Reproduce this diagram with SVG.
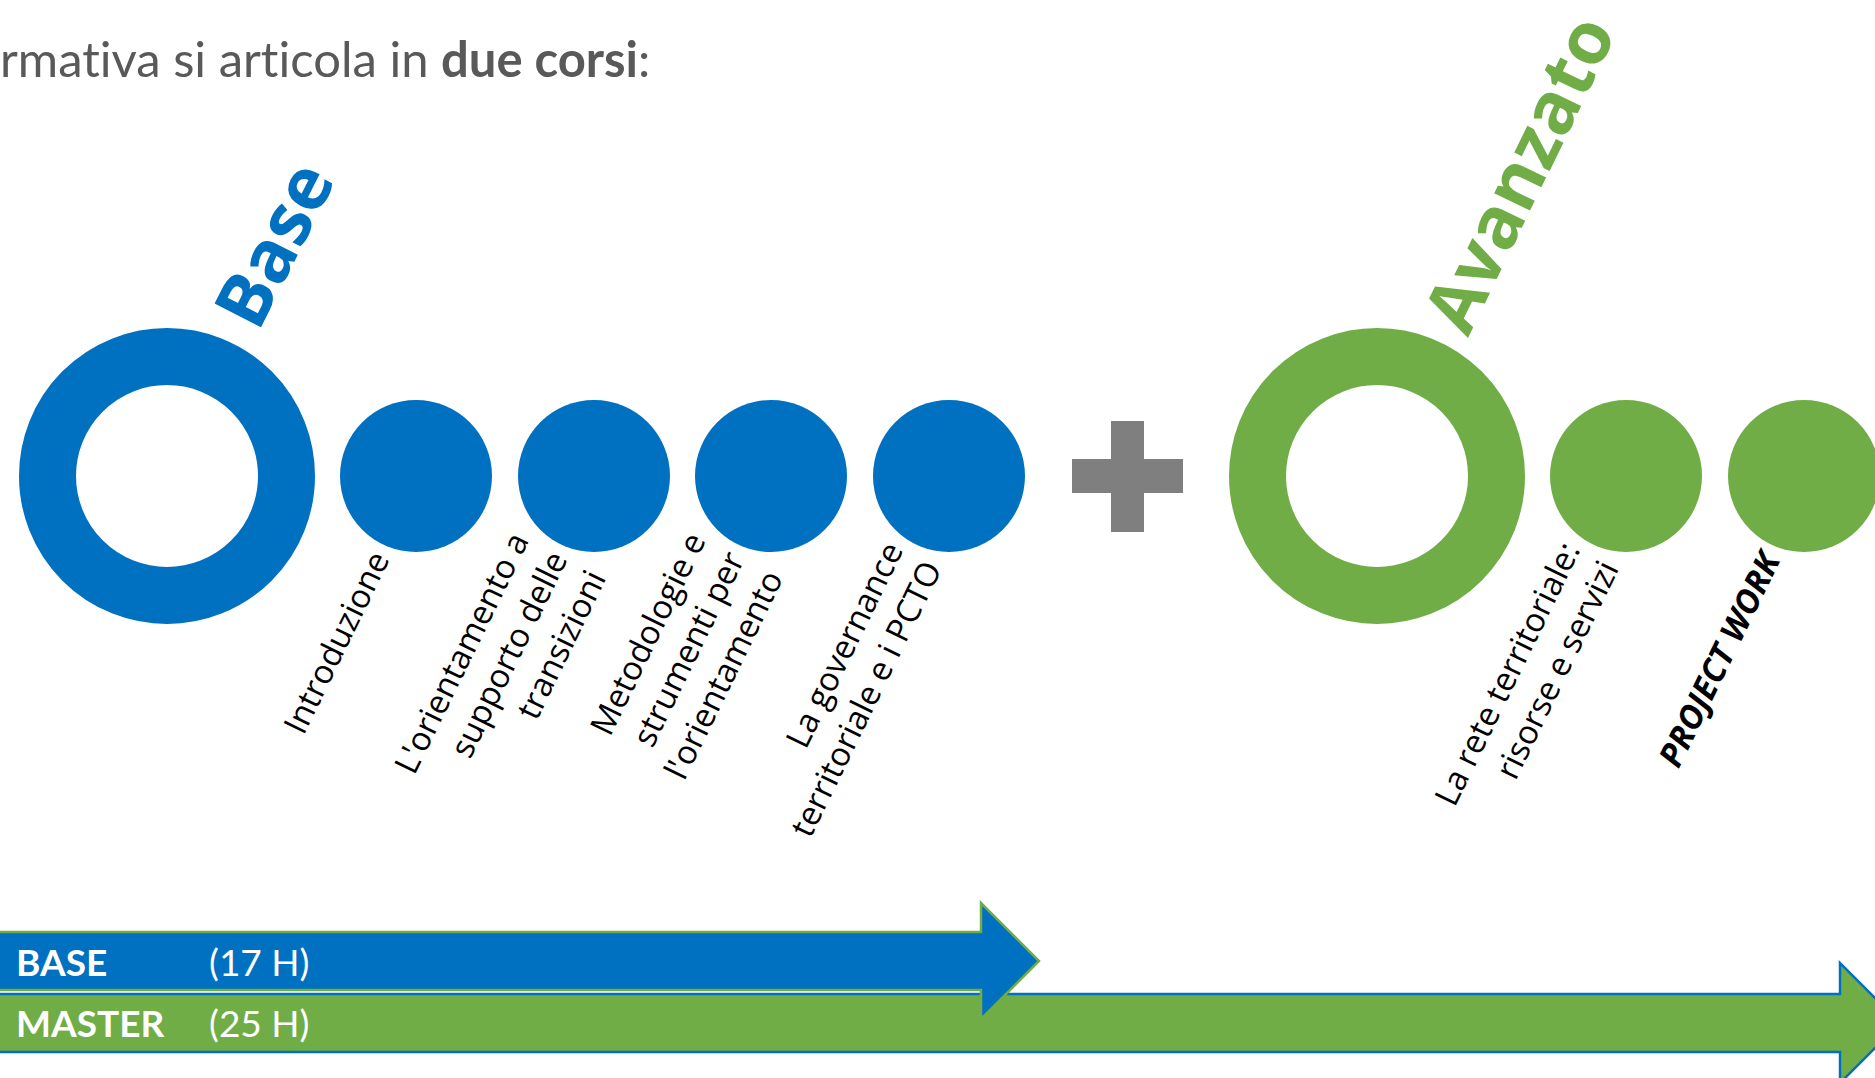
<svg xmlns="http://www.w3.org/2000/svg" width="1875" height="1078" viewBox="0 0 1875 1078">
<style>
.hdr{font-family:Lato,"Liberation Sans",sans-serif;font-size:49px;fill:#595959;font-variant-ligatures:none}
.lbl{font-family:"Open Sans","Noto Sans",sans-serif;font-size:33px;fill:#000;text-anchor:end}
.pw{font-weight:700;font-style:italic}
.ttl{font-family:"Open Sans","Noto Sans",sans-serif;font-size:73px;font-weight:700}
.bar{font-family:Lato,"Liberation Sans",sans-serif;font-size:37px;fill:#fff}
.blue{fill:#0070C0}
.green{fill:#70AD47}
</style>
<text class="hdr" x="0" y="77">rmativa si articola in <tspan font-weight="700">due corsi</tspan>:</text>

<g id="base-title"><text class="ttl blue" transform="translate(258,333) rotate(-63)">Base</text></g>
<g id="avanzato-title"><text class="ttl green" font-size="71" transform="translate(1468,338) rotate(-64)">Avanzato</text></g>

<g id="base-ring"><circle cx="167" cy="476" r="119.5" fill="none" stroke="#0070C0" stroke-width="57"/></g>
<g id="b1"><circle class="blue" cx="416" cy="476" r="76"/>
<text class="lbl" transform="translate(382,555) rotate(-64)"><tspan x="0" y="9">Introduzione</tspan></text></g>
<g id="b2"><circle class="blue" cx="594" cy="476" r="76"/>
<text class="lbl" transform="translate(560,555) rotate(-64)"><tspan x="0" y="-34">L'orientamento a</tspan><tspan x="0" y="9">supporto delle</tspan><tspan x="0" y="52">transizioni</tspan></text></g>
<g id="b3"><circle class="blue" cx="771" cy="476" r="76"/>
<text class="lbl" transform="translate(737,555) rotate(-64)"><tspan x="0" y="-34">Metodologie e</tspan><tspan x="0" y="9">strumenti per</tspan><tspan x="0" y="52">l'orientamento</tspan></text></g>
<g id="b4"><circle class="blue" cx="949" cy="476" r="76"/>
<text class="lbl" transform="translate(915,555) rotate(-64)"><tspan x="0" y="-12.5">La governance</tspan><tspan x="0" y="30.5">territoriale e i PCTO</tspan></text></g>

<g id="plus"><path d="M1111,421H1144V459H1183V493H1144V532H1111V493H1072V459H1111Z" fill="#7F7F7F"/></g>

<g id="adv-ring"><circle cx="1377" cy="476" r="119.5" fill="none" stroke="#70AD47" stroke-width="57"/></g>
<g id="g1"><circle class="green" cx="1626" cy="476" r="76"/>
<text class="lbl" transform="translate(1592,555) rotate(-64)"><tspan x="0" y="-12.5">La rete territoriale:</tspan><tspan x="0" y="30.5">risorse e servizi</tspan></text></g>
<g id="g2"><circle class="green" cx="1804" cy="476" r="76"/>
<text class="lbl pw" transform="translate(1771,555) rotate(-64)"><tspan x="0" y="11">PROJECT WORK</tspan></text></g>

<g id="connectors">
<path id="master-arrow" d="M-10,994H1840V963L1900,1023L1840,1083V1052H-10Z" fill="#70AD47" stroke="#0070C0" stroke-width="2.5"/>
<path id="base-arrow" d="M-10,932H981V903L1039,961L981,1019V990H-10Z" fill="#0070C0" stroke="#70AD47" stroke-width="2.5"/>
</g>
<g id="bar-labels">
<text class="bar" x="16" y="976" font-weight="700">BASE</text>
<text class="bar" x="209" y="976">(17 H)</text>
<text class="bar" x="16" y="1037" font-weight="700">MASTER</text>
<text class="bar" x="209" y="1037">(25 H)</text>
</g>
</svg>
